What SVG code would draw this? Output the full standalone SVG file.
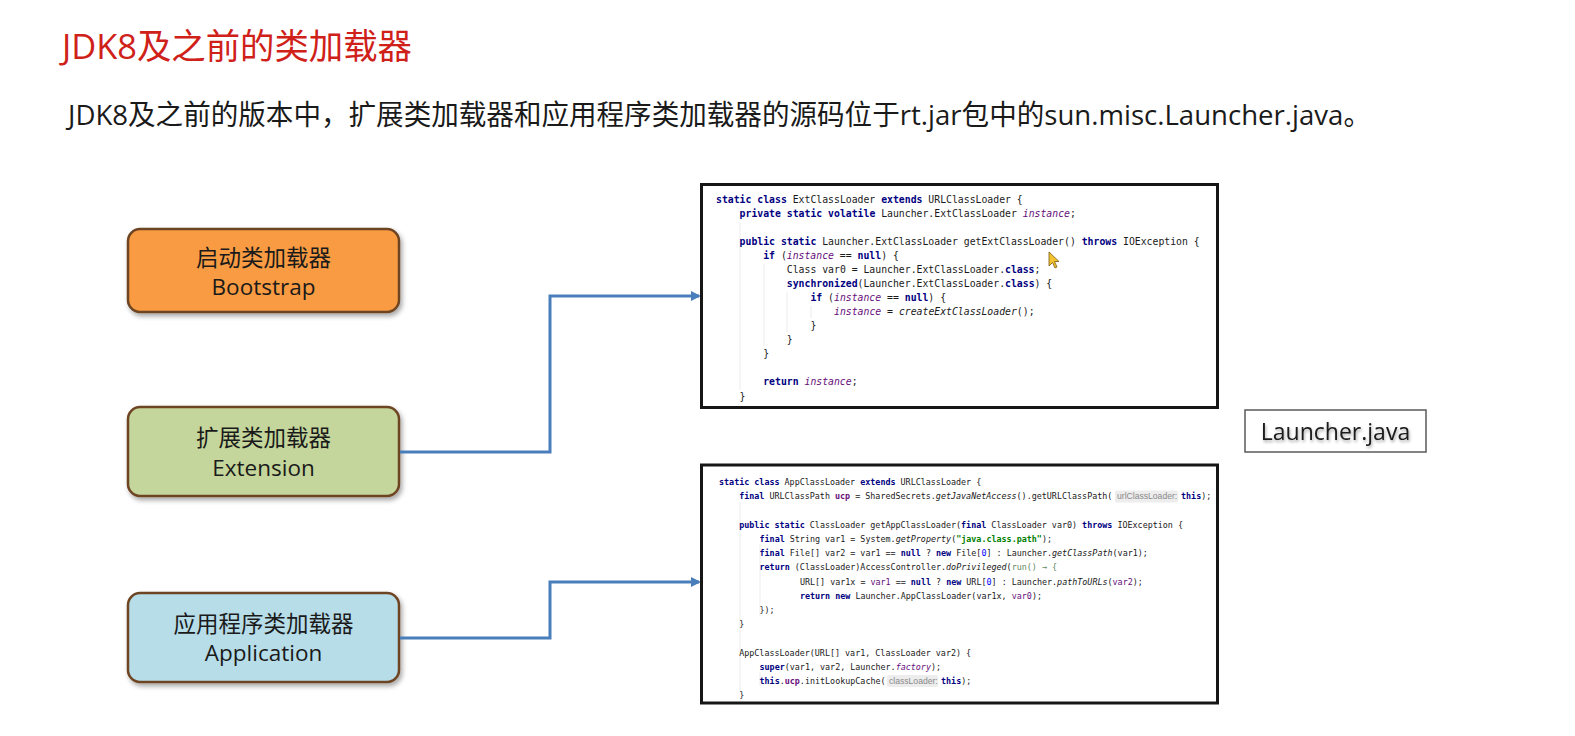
<svg xmlns="http://www.w3.org/2000/svg" width="1575" height="736" viewBox="0 0 1575 736">
<style>
.title{font-family:"Open Sans","Noto Sans CJK SC",sans-serif;font-size:35px;fill:#cf2119}
.sub{font-family:"Open Sans","Noto Sans CJK SC",sans-serif;font-size:28px;fill:#1a1a1a}
.lbl{font-family:"Open Sans","Noto Sans CJK SC",sans-serif;font-size:22.5px;fill:#1a1a1a;text-anchor:middle}
.node{stroke:#6e4524;stroke-width:2.5}
.code{font-family:"DejaVu Sans Mono","Liberation Mono",monospace;fill:#1a1a1a}
.c1{font-size:9.8px}
.c2{font-size:8.4px}
.k{fill:#000080;font-weight:bold}
.f{fill:#660e7a;font-style:italic}
.fv{fill:#660e7a;font-weight:bold}
.m{font-style:italic}
.s{fill:#008000;font-weight:bold}
.n{fill:#0000ff}
.p{fill:#660e7a}
.g{fill:#5f8a5f}
.hint{font-family:"Liberation Sans",sans-serif;font-size:8px;fill:#8a8a8a}
.hbg{fill:#ededed}
.guide{stroke:#ececec;stroke-width:1}
.codebox{fill:#ffffff;stroke:#161616;stroke-width:3}
.conn{fill:none;stroke:#4a7ebb;stroke-width:3}
</style>
<defs>
<filter id="sh" x="-10%" y="-10%" width="130%" height="140%">
<feDropShadow dx="2" dy="3" stdDeviation="2.5" flood-color="#000" flood-opacity="0.35"/>
</filter>
<filter id="tsh" x="-10%" y="-30%" width="120%" height="160%">
<feDropShadow dx="1" dy="2" stdDeviation="1.5" flood-color="#000" flood-opacity="0.35"/>
</filter>
<marker id="arr" markerWidth="10" markerHeight="10" refX="8" refY="5" orient="auto" markerUnits="userSpaceOnUse">
<path d="M0,0 L10,5 L0,10 Z" fill="#4a7ebb"/>
</marker>
</defs>
<rect width="1575" height="736" fill="#ffffff"/>

<text class="title" x="62" y="59" textLength="350" lengthAdjust="spacingAndGlyphs">JDK8及之前的类加载器</text>
<text class="sub" x="68" y="125" textLength="1303" lengthAdjust="spacingAndGlyphs">JDK8及之前的版本中，扩展类加载器和应用程序类加载器的源码位于rt.jar包中的sun.misc.Launcher.java。</text>

<g id="node-bootstrap">
<rect class="node" x="128" y="229" width="271" height="83" rx="12" fill="#f89b42" filter="url(#sh)"/>
<text class="lbl" x="263.5" y="265.5">启动类加载器</text>
<text class="lbl" x="263.5" y="295">Bootstrap</text>
</g>
<g id="node-extension">
<rect class="node" x="128" y="407" width="271" height="89" rx="12" fill="#c4d69b" filter="url(#sh)"/>
<text class="lbl" x="263.5" y="445.5">扩展类加载器</text>
<text class="lbl" x="263.5" y="476">Extension</text>
</g>
<g id="node-application">
<rect class="node" x="128" y="593" width="271" height="89" rx="12" fill="#b7dde8" filter="url(#sh)"/>
<text class="lbl" x="263.5" y="631.5">应用程序类加载器</text>
<text class="lbl" x="263.5" y="661">Application</text>
</g>

<g id="connectors">
<polyline class="conn" points="400,452 550,452 550,296 699,296" marker-end="url(#arr)"/>
<polyline class="conn" points="400,638 550,638 550,582 699,582" marker-end="url(#arr)"/>
</g>

<g id="node-ext-code">
<rect class="codebox" x="701.5" y="184.5" width="516" height="223"/>
<line class="guide" x1="740" y1="222" x2="740" y2="390"/>
<line class="guide" x1="764" y1="264" x2="764" y2="346"/>
<line class="guide" x1="787" y1="292" x2="787" y2="332"/>
<line class="guide" x1="811" y1="306" x2="811" y2="318"/>
<g class="code c1" xml:space="preserve">
<text x="716" y="202.5"><tspan class="k">static</tspan> <tspan class="k">class</tspan> ExtClassLoader <tspan class="k">extends</tspan> URLClassLoader {</text>
<text x="739.6" y="216.6"><tspan class="k">private</tspan> <tspan class="k">static</tspan> <tspan class="k">volatile</tspan> Launcher.ExtClassLoader <tspan class="f">instance</tspan>;</text>
<text x="739.6" y="244.7"><tspan class="k">public</tspan> <tspan class="k">static</tspan> Launcher.ExtClassLoader getExtClassLoader() <tspan class="k">throws</tspan> IOException {</text>
<text x="763.2" y="258.8"><tspan class="k">if</tspan> (<tspan class="f">instance</tspan> == <tspan class="k">null</tspan>) {</text>
<text x="786.8" y="272.8">Class var0 = Launcher.ExtClassLoader.<tspan class="k">class</tspan>;</text>
<text x="786.8" y="286.9"><tspan class="k">synchronized</tspan>(Launcher.ExtClassLoader.<tspan class="k">class</tspan>) {</text>
<text x="810.4" y="301"><tspan class="k">if</tspan> (<tspan class="f">instance</tspan> == <tspan class="k">null</tspan>) {</text>
<text x="834" y="315"><tspan class="f">instance</tspan> = <tspan class="m">createExtClassLoader</tspan>();</text>
<text x="810.4" y="329.1">}</text>
<text x="786.8" y="343.2">}</text>
<text x="763.2" y="357.3">}</text>
<text x="763.2" y="385.4"><tspan class="k">return</tspan> <tspan class="f">instance</tspan>;</text>
<text x="739.6" y="399.5">}</text>
</g>
<polygon points="1049,252 1049,266 1052.5,262.5 1055,268 1057,267 1054.5,261.5 1059,261.5" fill="#f2c230" stroke="#7a5a10" stroke-width="0.8"/>
</g>

<g id="node-app-code">
<rect class="codebox" x="701.5" y="465" width="516" height="238"/>
<line class="guide" x1="740" y1="502" x2="740" y2="692"/>
<line class="guide" x1="760" y1="544" x2="760" y2="616"/>
<line class="guide" x1="760" y1="672" x2="760" y2="686"/>
<g class="code c2" xml:space="preserve">
<text x="719" y="485.2"><tspan class="k">static</tspan> <tspan class="k">class</tspan> AppClassLoader <tspan class="k">extends</tspan> URLClassLoader {</text>
<text x="739.2" y="499.4"><tspan class="k">final</tspan> URLClassPath <tspan class="fv">ucp</tspan> = SharedSecrets.<tspan class="m">getJavaNetAccess</tspan>().getURLClassPath(</text>
<text x="1181" y="499.4"><tspan class="k">this</tspan>);</text>
<text x="739.2" y="527.8"><tspan class="k">public</tspan> <tspan class="k">static</tspan> ClassLoader getAppClassLoader(<tspan class="k">final</tspan> ClassLoader var0) <tspan class="k">throws</tspan> IOException {</text>
<text x="759.5" y="542"><tspan class="k">final</tspan> String var1 = System.<tspan class="m">getProperty</tspan>(<tspan class="s">"java.class.path"</tspan>);</text>
<text x="759.5" y="556.2"><tspan class="k">final</tspan> File[] var2 = var1 == <tspan class="k">null</tspan> ? <tspan class="k">new</tspan> File[<tspan class="n">0</tspan>] : Launcher.<tspan class="m">getClassPath</tspan>(var1);</text>
<text x="759.5" y="570.4"><tspan class="k">return</tspan> (ClassLoader)AccessController.<tspan class="m">doPrivileged</tspan>(<tspan class="g">run() → {</tspan></text>
<text x="799.9" y="584.6">URL[] var1x = <tspan class="p">var1</tspan> == <tspan class="k">null</tspan> ? <tspan class="k">new</tspan> URL[<tspan class="n">0</tspan>] : Launcher.<tspan class="m">pathToURLs</tspan>(<tspan class="p">var2</tspan>);</text>
<text x="799.9" y="598.8"><tspan class="k">return</tspan> <tspan class="k">new</tspan> Launcher.AppClassLoader(var1x, <tspan class="p">var0</tspan>);</text>
<text x="759.5" y="613">});</text>
<text x="739.2" y="627.2">}</text>
<text x="739.2" y="655.6">AppClassLoader(URL[] var1, ClassLoader var2) {</text>
<text x="759.5" y="669.8"><tspan class="k">super</tspan>(var1, var2, Launcher.<tspan class="f">factory</tspan>);</text>
<text x="759.5" y="684"><tspan class="k">this</tspan>.<tspan class="fv">ucp</tspan>.initLookupCache(</text>
<text x="941" y="684"><tspan class="k">this</tspan>);</text>
<text x="739.2" y="698.2">}</text>
</g>
<rect class="hbg" x="1115" y="490.5" width="63" height="12" rx="2"/>
<text class="hint" x="1117" y="499.4" style="font-size:8.6px">urlClassLoader:</text>
<rect class="hbg" x="887" y="675" width="51" height="12" rx="2"/>
<text class="hint" x="889" y="684" style="font-size:8.6px">classLoader:</text>
</g>

<g id="node-launcher">
<rect x="1245" y="410" width="181" height="42" fill="#ffffff" stroke="#5a5a5a" stroke-width="1.5"/>
<text x="1335.5" y="440" text-anchor="middle" filter="url(#tsh)" style="font-family:'Open Sans',sans-serif;font-size:23px;fill:#1a1a1a">Launcher.java</text>
</g>
</svg>
